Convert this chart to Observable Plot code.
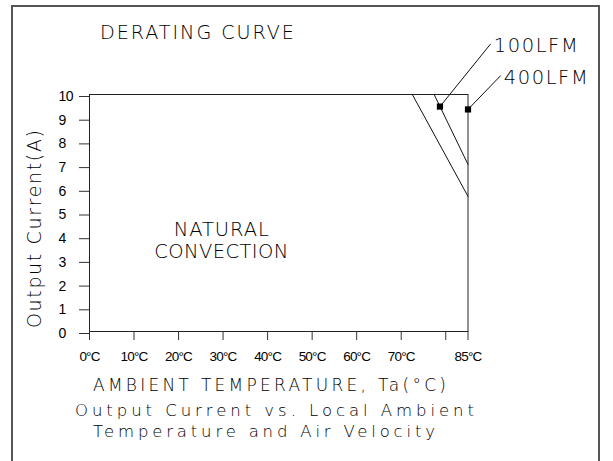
<!DOCTYPE html>
<html>
<head>
<meta charset="utf-8">
<script src="https://cdn.jsdelivr.net/npm/d3@7"></script>
<script src="https://cdn.jsdelivr.net/npm/@observablehq/plot@0.6"></script>
<style>
  html, body { margin: 0; padding: 0; background: #fff; }
  #wrap { position: relative; width: 613px; height: 461px; overflow: hidden; background: #fff; }
  #border { position: absolute; left: 11px; top: 5px; width: 589px; height: 520px; border: 2px solid #555; box-sizing: border-box; }
  #plot { position: absolute; left: 0; top: 0; }
  .t { position: absolute; white-space: nowrap; color: #000; font-family: "DejaVu Sans", sans-serif; font-weight: 200; }
  #plot text { font-weight: 200; fill: #000; }
  #plot g[aria-label="x-axis tick label"] text {
    font-family: "Liberation Sans", Arial, sans-serif; font-weight: 400; font-size: 13.5px !important; letter-spacing: -0.8px;
  }
  #plot g[aria-label="y-axis tick label"] text {
    font-family: "Liberation Sans", Arial, sans-serif; font-weight: 400; font-size: 14px !important; letter-spacing: -0.5px;
  }
</style>
</head>
<body>
<div id="wrap"><div id="border"></div><div id="plot"></div></div>
<script>
// ---- data ----
const xTicks = [0, 10, 20, 30, 40, 50, 60, 70, 80, 85];
const xTickLabels = ["0°C", "10°C", "20°C", "30°C", "40°C", "50°C", "60°C", "70°C", "", "85°C"];
const yTicks = [0, 1, 2, 3, 4, 5, 6, 7, 8, 9, 10];

// Natural convection derating line (temperature °C, current A)
const naturalT = [72.5, 85];
const naturalI = [10, 5.7];
// 100LFM derating line
const lfm100T = [77.4, 85];
const lfm100I = [10, 7.05];
// Callout markers and their label anchor points
const calloutNames = ["100LFM", "400LFM"];
const markerT = [78.7, 85];
const markerI = [9.49, 9.37];
const labelT = [90.1, 92.35];
const labelI = [12.14, 10.8];
// Region label
const regionText = ["NATURAL\nCONVECTION"];
const regionT = [29.6];
const regionI = [3.85];

// ---- build tables ----
const natural = naturalT.map((t, i) => ({t, a: naturalI[i]}));
const lfm100 = lfm100T.map((t, i) => ({t, a: lfm100I[i]}));
const callouts = calloutNames.map((name, i) => ({name, mt: markerT[i], ma: markerI[i], lt: labelT[i], la: labelI[i]}));
const region = regionText.map((s, i) => ({s, t: regionT[i], a: regionI[i]}));

const chart = Plot.plot({
  width: 613,
  height: 461,
  marginLeft: 89,
  marginRight: 145.5,
  marginTop: 94,
  marginBottom: 130,
  x: {domain: [0, 85]},
  y: {domain: [0, 10]},
  style: {fontFamily: "DejaVu Sans, sans-serif", color: "#111", background: "transparent", overflow: "visible"},
  marks: [
    Plot.frame({stroke: "#222", strokeWidth: 1}),
    Plot.axisX({ticks: xTicks, tickFormat: d => xTickLabels[xTicks.indexOf(d)], tickSize: 9, tickPadding: 11, fontSize: 13.5, label: null, stroke: "#333"}),
    Plot.axisY({ticks: yTicks, tickFormat: d => String(d), tickSize: 10, tickPadding: 21, textAnchor: "start", fontSize: 14, dy: 2, label: null, stroke: "#333"}),
    Plot.line(natural, {x: "t", y: "a", stroke: "#111", strokeWidth: 1}),
    Plot.line(lfm100, {x: "t", y: "a", stroke: "#111", strokeWidth: 1}),
    Plot.link(callouts, {x1: "mt", y1: "ma", x2: "lt", y2: "la", stroke: "#111", strokeWidth: 1}),
    Plot.dot(callouts, {x: "mt", y: "ma", symbol: "square", r: 3.5, fill: "#000", stroke: "none"}),
    Plot.text(callouts, {x: "lt", y: "la", text: "name", textAnchor: "start", dx: 3, dy: 2, fontSize: 19.5, fill: "#000"}),
    Plot.text(region, {x: "t", y: "a", text: "s", textAnchor: "middle", lineHeight: 1.12, fontSize: 19.5, fill: "#000"})
  ]
});
document.getElementById("plot").append(chart);

// fit widths of in-plot annotation texts
const fitW = {"100LFM": 84, "400LFM": 84, "NATURAL": 95, "CONVECTION": 134};
d3.select(chart).selectAll("text, tspan").each(function () {
  if (this.tagName === "text" && this.querySelector("tspan")) return;
  const s = this.textContent;
  if (fitW[s]) {
    this.setAttribute("textLength", fitW[s]);
    this.setAttribute("lengthAdjust", "spacing");
  }
});

// ---- title, axis titles and caption ----
const wrap = document.getElementById("wrap");
function addText(str, x, baseline, size, width, rotate) {
  const el = document.createElement("div");
  el.className = "t";
  el.textContent = str;
  el.style.fontSize = size + "px";
  el.style.lineHeight = size + "px";
  wrap.append(el);
  const w = el.getBoundingClientRect().width;
  el.style.letterSpacing = ((width - w) / (str.length - 1)) + "px";
  el.style.left = x + "px";
  if (rotate) {
    el.style.top = baseline + "px";
    el.style.transformOrigin = "0 0";
    el.style.transform = `rotate(-90deg) translate(0px, ${-0.846 * size}px)`;
  } else {
    el.style.top = (baseline - 0.846 * size) + "px";
  }
}
addText("DERATING CURVE", 100, 39, 19.2, 194);
addText("Output Current(A)", 41, 328, 19, 198, true);
addText("AMBIENT TEMPERATURE, Ta(°C)", 93, 391.7, 17, 353);
addText("Output Current vs. Local Ambient", 75, 416.7, 16.5, 399);
addText("Temperature and Air Velocity", 93, 438, 16.5, 342);
</script>
</body>
</html>
